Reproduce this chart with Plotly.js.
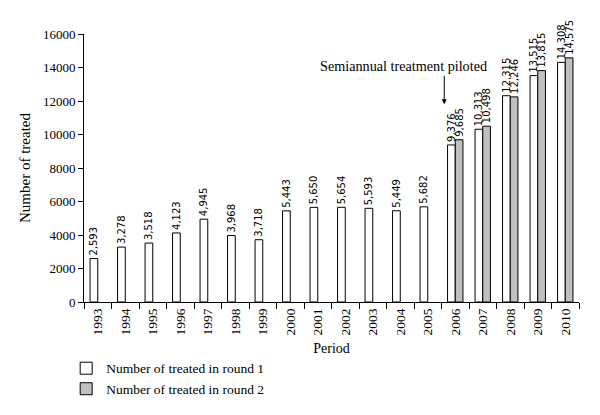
<!DOCTYPE html>
<html>
<head>
<meta charset="utf-8">
<script src="https://cdn.plot.ly/plotly-3.0.1.min.js"></script>
<style>html,body{margin:0;padding:0;background:#fff;}#chart{width:600px;height:415px;}</style>
</head>
<body>
<div id="chart"></div>
<script>
var periods = ["1993","1994","1995","1996","1997","1998","1999","2000","2001","2002","2003","2004","2005","2006","2007","2008","2009","2010"];
var round1 = [2593,3278,3518,4123,4945,3968,3718,5443,5650,5654,5593,5449,5682,9376,10313,12315,13515,14308];
var round2 = [null,null,null,null,null,null,null,null,null,null,null,null,null,9685,10498,12246,13815,14575];
var seriesNames = ["Number of treated in round 1","Number of treated in round 2"];
var annotationText = "Semiannual treatment piloted";

var FONT = "Liberation Serif, Times New Roman, serif";
var LABELFONT = "DejaVu Sans, sans-serif";
var common = {
  type: "bar",
  x: periods,
  textposition: "outside",
  textangle: -90,
  texttemplate: "%{y:,}",
  constraintext: "none",
  cliponaxis: false,
  textfont: {family: LABELFONT, size: 10, color: "#000"},
  hoverinfo: "none"
};
var t1 = Object.assign({}, common, {name: seriesNames[0], y: round1, marker: {color: "#ffffff", line: {color: "#000", width: 1}}});
var t2 = Object.assign({}, common, {name: seriesNames[1], y: round2, marker: {color: "#c0c0c0", line: {color: "#000", width: 1}}});

var layout = {
  width: 600, height: 415,
  margin: {l: 84, r: 21, t: 34, b: 113, autoexpand: false},
  paper_bgcolor: "#fff", plot_bgcolor: "#fff",
  font: {family: FONT, size: 13, color: "#000"},
  barmode: "group",
  bargap: 0.44,
  bargroupgap: 0,
  showlegend: true,
  legend: {x: -0.036, xanchor: "left", y: -0.19, yanchor: "top", orientation: "v",
           font: {family: FONT, size: 13.5, color: "#000"}, tracegroupgap: 0, itemwidth: 30,
           bgcolor: "rgba(0,0,0,0)"},
  xaxis: {
    type: "category", tickson: "boundaries", ticks: "outside", ticklen: 6, tickcolor: "#000",
    showline: true, linecolor: "#000", linewidth: 1, tickangle: -90, showgrid: false,
    automargin: false,
    tickfont: {family: FONT, size: 13.5, color: "#000"},
    title: {text: "Period", font: {family: FONT, size: 14, color: "#000"}, standoff: 8}
  },
  yaxis: {
    range: [0, 16000], dtick: 2000, ticks: "outside", ticklen: 5, tickcolor: "#000",
    showline: true, linecolor: "#000", linewidth: 1, showgrid: false, zeroline: false,
    automargin: false,
    tickformat: "d",
    tickfont: {family: FONT, size: 13, color: "#000"},
    title: {text: "Number of treated", font: {family: FONT, size: 15, color: "#000"}, standoff: 8}
  },
  annotations: [
    {xref: "x", yref: "y", x: 11.1, y: 14100, text: annotationText, showarrow: false,
     font: {family: FONT, size: 14.2, color: "#000"}},
    {xref: "x", yref: "y", x: 12.6, y: 11800, ax: 0, ay: -30, text: "", showarrow: true,
     arrowhead: 2, arrowsize: 1, arrowwidth: 1, arrowcolor: "#000", standoff: 0}
  ]
};
Plotly.newPlot("chart", [t1, t2], layout, {displayModeBar: false, staticPlot: true});
</script>
</body>
</html>
